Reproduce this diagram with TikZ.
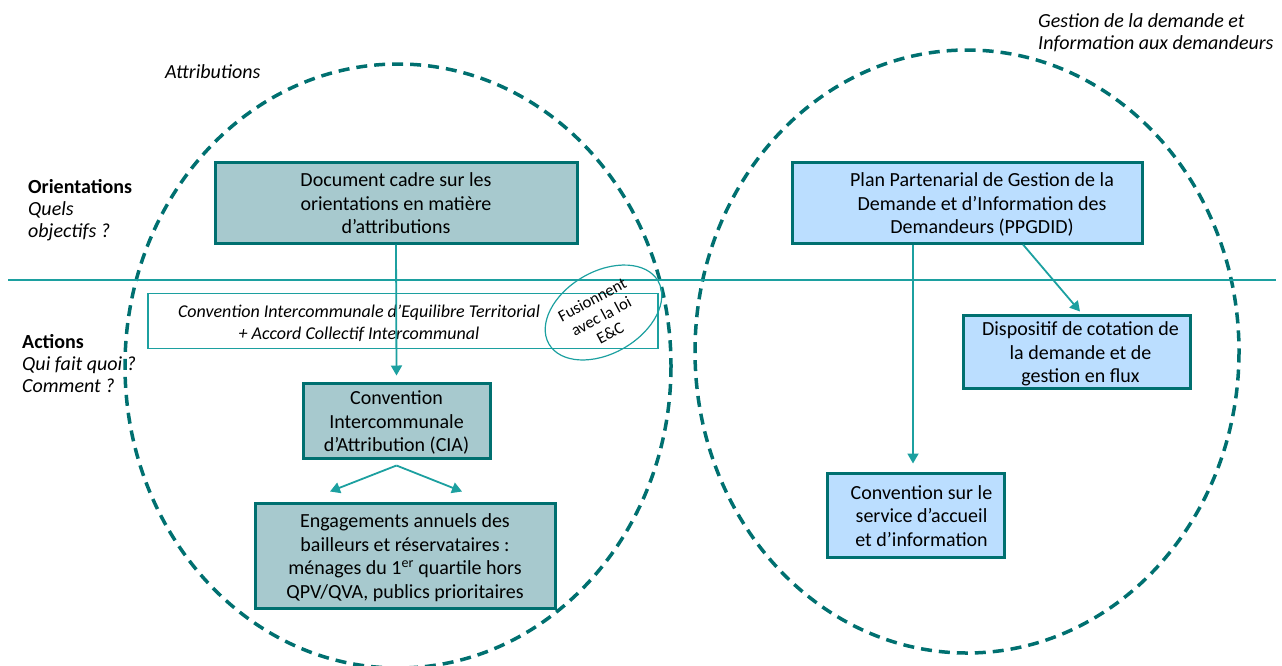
\documentclass[tikz,border=0pt]{standalone}
\usepackage{fontspec}
\setmainfont{Carlito}
\usetikzlibrary{arrows.meta}
\definecolor{dteal}{RGB}{0,112,112}
\definecolor{lteal}{RGB}{28,160,160}
\definecolor{gfill}{RGB}{167,201,206}
\definecolor{bfill}{RGB}{187,222,255}
\newcommand{\mylines}[1]{\raisebox{-3pt}[\height][\depth]{\begin{tabular}{@{}c@{}}#1\end{tabular}}}
\newcommand{\leftlines}[1]{\begin{tabular}[t]{@{}l@{}}#1\end{tabular}}
\begin{document}
\begin{tikzpicture}[x=1pt,y=-1pt,
 ell/.style={draw=dteal, line width=3.5pt, dash pattern=on 11pt off 7pt},
 gbox/.style={draw=dteal, line width=3pt, fill=gfill, inner sep=0pt, font=\fontsize{20}{23.5}\selectfont},
 bbox/.style={gbox, fill=bfill},
 thinbox/.style={draw=lteal, line width=1.2pt, fill=white, inner sep=0pt, font=\fontsize{18}{22}\selectfont\itshape},
 arr/.style={draw=lteal, line width=1.8pt, -{Triangle[length=10pt,width=11pt]}},
 lbl/.style={inner sep=0pt, anchor=base west, font=\fontsize{20}{22}\selectfont},
]
\useasboundingbox (0,0) rectangle (1282,665);
\draw[ell] (398,366) ellipse [x radius=273, y radius=302];
\draw[ell] (967,351.5) ellipse [x radius=272, y radius=301.5];
\coordinate (hl) at (8,280);
\coordinate (hr) at (1276,280);
\draw[lteal, line width=2pt] (hl) -- (hr);

\node[thinbox, minimum width=510, minimum height=55] (ciet) at (403,321)
  {\mylines{Convention Intercommunale d’Equilibre Territorial\\+ Accord Collectif Intercommunal}\hspace*{88pt}};
\draw[lteal, line width=1.2pt, rotate around={30:(603.5,312.5)}] (603.5,312.5) ellipse [x radius=63, y radius=41];
\node[inner sep=0pt, rotate=28, font=\fontsize{16.5}{19}\selectfont] (fus) at (602,318) {\begin{tabular}{@{}c@{}}Fusionnent\\avec la loi\\E\&C\end{tabular}};

\node[gbox, minimum width=362, minimum height=81] (doc) at (396,202.5)
  {\mylines{Document cadre sur les\\orientations en matière\\d’attributions}};
\node[gbox, minimum width=187, minimum height=75] (cia) at (396.5,420.5)
  {\mylines{Convention\\Intercommunale\\d’Attribution (CIA)}};
\node[gbox, minimum width=300, minimum height=105] (eng) at (405,555.5)
  {\mylines{Engagements annuels des\\bailleurs et réservataires :\\ménages du 1\textsuperscript{er} quartile hors\\QPV/QVA, publics prioritaires}};
\node[bbox, minimum width=350, minimum height=81] (ppg) at (967,202.5)
  {\hspace*{30pt}\mylines{Plan Partenarial de Gestion de la\\Demande et d’Information des\\Demandeurs (PPGDID)}};
\node[bbox, minimum width=227, minimum height=73] (dis) at (1076.5,351.5)
  {\hspace*{8pt}\mylines{Dispositif de cotation de\\la demande et de\\gestion en flux}};
\node[bbox, minimum width=177, minimum height=84] (conv) at (916,515)
  {\hspace*{11pt}\mylines{Convention sur le\\service d’accueil\\et d’information}};

\draw[arr] (doc.south) -- ([yshift=6pt]cia.north);
\draw[arr] ([yshift=-6pt]cia.south) -- ([xshift=-75pt,yshift=10pt]eng.north);
\draw[arr] ([yshift=-6pt]cia.south) -- ([xshift=57pt,yshift=10pt]eng.north);
\draw[arr] ([xshift=-54pt]ppg.south) -- ([xshift=-3pt,yshift=8pt]conv.north);
\draw[arr] ([xshift=56pt]ppg.south) -- ([xshift=3.5pt,yshift=2pt]dis.north);

\node[lbl] (ori) at (28,193) {\leftlines{\textbf{Orientations}\\\textit{Quels}\\\textit{objectifs ?}}};
\node[lbl] (act) at (22,348) {\leftlines{\textbf{Actions}\\\textit{Qui fait quoi ?}\\\textit{Comment ?}}};
\node[lbl, font=\fontsize{20}{22}\selectfont\itshape] (attr) at (165,78) {Attributions};
\node[lbl] (ges) at (1038,27) {\leftlines{\textit{Gestion de la demande et}\\\textit{Information aux demandeurs}}};
\end{tikzpicture}
\end{document}
